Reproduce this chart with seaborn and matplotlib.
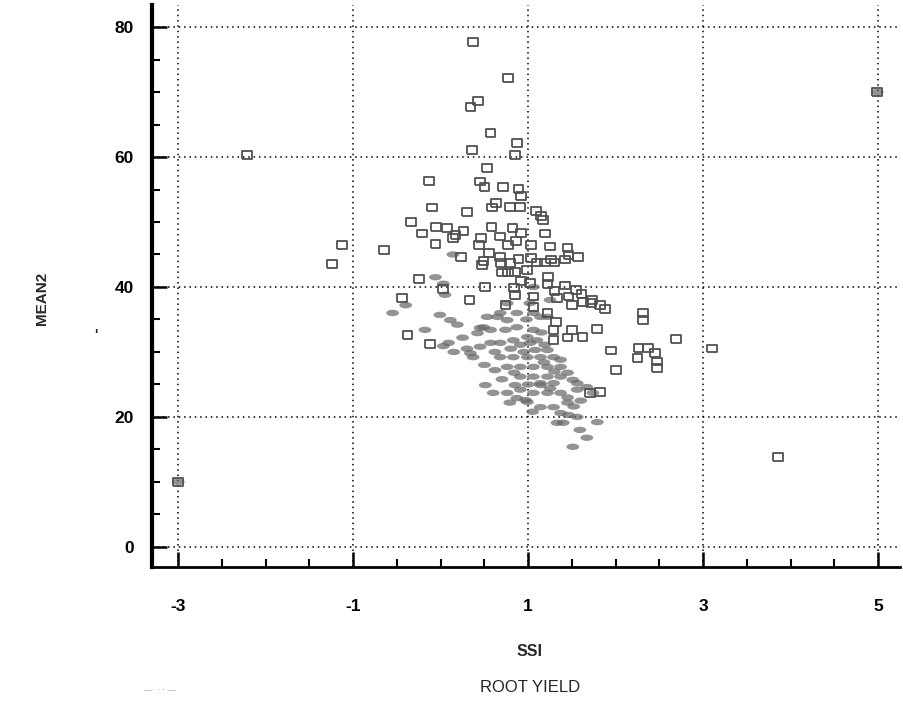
import matplotlib
matplotlib.use("Agg")
import matplotlib.pyplot as plt
import seaborn as sns
import pandas as pd
import numpy as np
from matplotlib.ticker import MultipleLocator, FixedLocator

# ---- data: open squares (series A) ----
sq_x = [0.37, 0.77, -2.21, 0.34, 0.43, 4.99, 0.57, 0.36, 0.87, 0.85, 0.53, -0.13, 0.45, 0.50,
        0.71, 0.89, 0.92, -0.10, 0.63, 0.79, 0.91, 1.09, 1.15, 0.30, -0.34, -0.05, 0.07, 0.26,
        0.58, 0.82, 0.92, -0.21, -0.06, 0.17, 0.46, 0.68, 0.86, 0.44, 0.77, 1.03, 1.19, 1.25,
        1.26, -1.13, -1.24, -0.65, 0.23, 0.49, 0.55, 0.69, 0.79, 0.89, 1.03, 1.10, 1.19, 1.30,
        1.42, 1.46, 1.57, 0.77, 0.99, 0.92, -0.25, 0.03, 0.33, 0.51, 0.84, 1.02, 1.22, 1.30,
        1.42, 1.55, 1.46, 1.61, 1.63, 1.72, 1.82, 1.88, 1.32, -0.44, -0.38, -0.12, 1.29, 1.50,
        1.79, 1.29, 1.45, 1.62, 1.95, 2.00, 2.31, 2.31, 2.69, 3.10, 2.26, 2.37, 2.25, 2.45,
        2.47, 2.47, 1.82, 1.71, 3.86, -3.00, 0.47, 0.70, 0.85, 1.23, 0.85, 0.74, 1.06, 1.06,
        1.22, 1.33, 1.50, 1.73, 0.68, 0.59, 1.17, 1.45, 0.14]
sq_y = [77.7, 72.2, 60.3, 67.7, 68.6, 70.0, 63.7, 61.1, 62.2, 60.3, 58.3, 56.3, 56.2, 55.4,
        55.4, 55.1, 54.0, 52.2, 52.9, 52.3, 52.3, 51.7, 50.9, 51.5, 50.0, 49.2, 49.1, 48.6,
        49.2, 49.1, 48.3, 48.2, 46.6, 48.0, 47.5, 47.8, 47.1, 46.5, 46.5, 46.5, 48.2, 46.2,
        44.2, 46.5, 43.5, 45.7, 44.6, 44.0, 45.2, 43.7, 43.7, 44.3, 44.5, 43.8, 43.8, 43.8,
        44.2, 44.9, 44.6, 42.2, 42.6, 40.9, 41.2, 39.7, 38.0, 40.0, 39.8, 40.6, 40.5, 39.4,
        40.2, 39.5, 38.5, 38.9, 37.7, 37.5, 37.2, 36.6, 34.6, 38.3, 32.6, 31.2, 33.4, 33.4,
        33.5, 31.8, 32.2, 32.3, 30.2, 27.2, 36.0, 34.9, 32.0, 30.5, 30.6, 30.6, 29.1, 29.8,
        28.5, 27.5, 23.8, 23.7, 13.8, 10.0, 43.4, 42.2, 42.3, 41.5, 38.8, 37.2, 38.5, 36.9,
        36.0, 38.3, 37.2, 38.0, 44.6, 52.2, 50.3, 46.0, 47.5]

# ---- data: filled grey marks (series B) ----
gr_x = [-0.06, 0.05, -0.01, 0.11, 0.19, -0.18, 0.09, 0.03, 0.37, 0.45, 0.53, 0.65, 0.76, 0.87,
        1.06, 0.45, 0.57, 0.68, 0.83, 0.99, 0.68, 0.83, 0.99, 1.14, 1.29, 0.76, 0.91, 1.06,
        1.22, 1.37, 0.91, 1.06, 1.22, 1.37, 1.51, 0.60, 0.76, 0.91, 1.06, 1.22, 1.37, 1.56,
        1.67, 1.14, 1.29, 1.37, 1.40, 1.56, 1.59, 1.67, 1.51, 0.68, 0.87, 1.02, 1.06, 1.14,
        1.06, 1.22, 0.76, 0.42, 1.37, 1.45, 1.56, 1.74, 1.25, 1.33, 0.34, 0.57, 0.74, 0.91,
        1.08, 1.19, 0.62, 0.51, 0.85, 1.14, 0.97, 0.79, 0.87, 0.99, 1.45, 1.46, 1.14, 1.29,
        0.49, 1.22, 1.02, 1.79, -0.40, -0.55, 4.99, -3.00, 0.03, 0.14,
        0.30, 0.50, 0.62, 0.80, 0.95, 1.10, 1.18, 1.30, 0.70, 0.84, 1.00, 1.25, 1.45, 1.52,
        0.98, 1.15, 0.25, 0.15, 1.60, 1.05]
gr_y = [41.5, 38.8, 35.7, 34.9, 34.2, 33.4, 31.4, 30.9, 29.2, 33.7, 35.4, 35.4, 34.9, 33.8,
        33.4, 30.8, 31.4, 31.4, 31.8, 32.3, 29.2, 29.2, 29.2, 29.2, 29.2, 27.7, 27.7, 27.7,
        27.7, 27.7, 26.2, 26.2, 26.2, 26.2, 25.7, 23.7, 23.7, 24.2, 23.7, 23.7, 23.7, 24.2,
        24.6, 21.5, 21.5, 20.6, 19.1, 20.0, 18.0, 16.8, 15.4, 36.0, 36.0, 37.5, 36.0, 35.4,
        40.0, 35.4, 37.5, 32.9, 28.8, 26.8, 25.2, 23.7, 38.0, 19.1, 29.8, 33.4, 33.4, 31.1,
        30.3, 31.1, 27.2, 24.9, 24.9, 24.9, 22.6, 22.2, 22.9, 22.3, 22.2, 20.3, 25.2, 25.2,
        33.8, 30.3, 31.4, 19.2, 37.2, 36.0, 70.0, 10.0, 40.5, 45.0,
        30.5, 28.0, 30.0, 30.5, 30.0, 31.8, 28.4, 27.0, 25.8, 26.8, 25.0, 24.4, 23.0, 21.6,
        35.0, 33.0, 32.2, 30.0, 22.5, 20.8]

x_major = [-3, -1, 1, 3, 5]
y_major = [0, 20, 40, 60, 80]
x_ticklabels = ["-3", "-1", "1", "3", "5"]
y_ticklabels = ["0", "20", "40", "60", "80"]

sns.set_style("white")
plt.rcParams['font.family'] = ['Liberation Sans', 'DejaVu Sans']

fig = plt.figure(figsize=(9.04, 7.05), dpi=100)
ax = fig.add_axes([152/904, 1 - 567/705, 748/904, 562/705])

df_sq = pd.DataFrame({"SSI": sq_x, "MEAN2": sq_y})
df_gr = pd.DataFrame({"SSI": gr_x, "MEAN2": gr_y})

rect = [(-1.3, -1), (1.3, -1), (1.3, 1), (-1.3, 1), (-1.3, -1)]
t = np.linspace(0, 2 * np.pi, 25)
blob = list(zip(1.6 * np.cos(t), 0.8 * np.sin(t)))

sns.scatterplot(data=df_gr, x="SSI", y="MEAN2", ax=ax, marker=blob, s=85,
                color="#666666", edgecolor="none", alpha=0.7, zorder=3)
sns.scatterplot(data=df_sq, x="SSI", y="MEAN2", ax=ax, marker=rect, s=50,
                facecolor="none", edgecolor="#505050", linewidth=1.3, zorder=4)

ax.set_xlim(-3.30, 5.25)
ax.set_ylim(-3.1, 83.4)

ax.xaxis.set_major_locator(FixedLocator(x_major))
ax.yaxis.set_major_locator(FixedLocator(y_major))
ax.xaxis.set_minor_locator(MultipleLocator(0.5))
ax.yaxis.set_minor_locator(MultipleLocator(5))
ax.set_xticklabels(x_ticklabels, fontsize=12.5, fontweight="heavy")
ax.set_yticklabels(y_ticklabels, fontsize=12.5, fontweight="heavy")

ax.tick_params(axis="x", which="both", bottom=True, top=False, direction="in", color="black")
ax.tick_params(axis="y", which="both", left=True, right=False, direction="in", color="black")
ax.tick_params(axis="x", which="major", length=11, width=1.8, pad=23, labelcolor="black")
ax.tick_params(axis="x", which="minor", length=6, width=1.5)
ax.tick_params(axis="y", which="major", length=11, width=1.8, pad=13, labelcolor="black")
ax.tick_params(axis="y", which="minor", length=6, width=1.5)

ax.grid(True, which="major", color="black", linestyle=(0, (1, 2.5)), linewidth=1.1)
ax.grid(False, which="minor")
ax.set_axisbelow(True)

for side in ["top", "right"]:
    ax.spines[side].set_visible(False)
ax.spines["left"].set_linewidth(3)
ax.spines["bottom"].set_linewidth(2)
ax.spines["left"].set_color("black")
ax.spines["bottom"].set_color("black")

ax.set_xlabel("")
ax.set_ylabel("")

fig.text(530/904, 1 - 652/705, "SSI", ha="center", va="center", fontsize=11.5, fontweight="bold")
fig.text(530/904, 1 - 688/705, "ROOT YIELD", ha="center", va="center", fontsize=12)
fig.text(42/904, 1 - 298/705, "MEAN2", ha="center", va="center", rotation=90,
         fontsize=11, fontweight="bold", family=['Liberation Sans Narrow', 'Liberation Sans', 'DejaVu Sans'])
fig.text(96/904, 1 - 335/705, "'", ha="center", va="center", fontsize=10, fontweight="bold")
fig.text(160/904, 1 - 690/705, "\u2014  \u00b7 \u00b7 \u2014", ha="center", va="center", fontsize=6, color="#888888")

fig.savefig("out.png", dpi=100)
